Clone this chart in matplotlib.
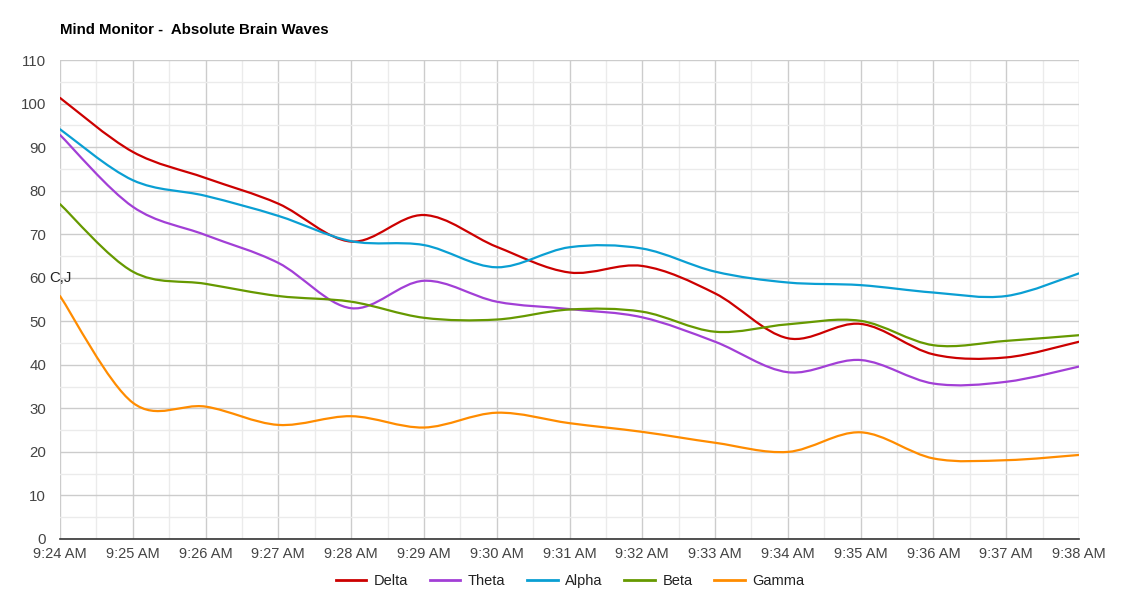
import matplotlib
matplotlib.use("Agg")
import matplotlib.pyplot as plt
from matplotlib.path import Path
from matplotlib.patches import PathPatch
from matplotlib.lines import Line2D
import numpy as np

plt.rcParams['font.family'] = ['Liberation Sans', 'DejaVu Sans']

times = ["9:24 AM", "9:25 AM", "9:26 AM", "9:27 AM", "9:28 AM", "9:29 AM", "9:30 AM",
         "9:31 AM", "9:32 AM", "9:33 AM", "9:34 AM", "9:35 AM", "9:36 AM", "9:37 AM", "9:38 AM"]
delta = [101.3, 88.9, 82.9, 77.0, 68.3, 74.4, 67.1, 61.2, 62.7, 56.4, 46.1, 49.4, 42.4, 41.7, 45.3]
theta = [92.8, 76.3, 69.8, 63.4, 53.0, 59.3, 54.5, 52.8, 50.9, 45.3, 38.3, 41.1, 35.7, 36.1, 39.6]
alpha = [94.1, 82.4, 78.8, 74.2, 68.4, 67.5, 62.4, 67.0, 66.7, 61.4, 58.9, 58.3, 56.6, 55.8, 61.0]
beta = [76.9, 61.4, 58.6, 55.8, 54.5, 50.8, 50.4, 52.7, 52.2, 47.6, 49.3, 50.1, 44.5, 45.5, 46.8]
gamma = [55.8, 31.3, 30.4, 26.2, 28.2, 25.6, 29.0, 26.6, 24.6, 22.1, 20.0, 24.5, 18.5, 18.1, 19.3]

series = [("Delta", delta, "#cc0000"), ("Theta", theta, "#a23fd6"),
          ("Alpha", alpha, "#0a9fd3"), ("Beta", beta, "#669900"),
          ("Gamma", gamma, "#ff8c00")]

W, H = 1140, 600
fig = plt.figure(figsize=(W / 100, H / 100), dpi=100)
L, R, T, B = 60, 1079, 60, 539
ax = fig.add_axes([L / W, 1 - B / H, (R - L) / W, (B - T) / H])

x = np.arange(len(times))


def smooth_path(xs, ys):
    pts = np.column_stack([xs, ys]).astype(float)
    n = len(pts)
    verts = [pts[0]]
    codes = [Path.MOVETO]
    for i in range(n - 1):
        p0 = pts[i - 1] if i > 0 else pts[i]
        p1 = pts[i]
        p2 = pts[i + 1]
        p3 = pts[i + 2] if i + 2 < n else pts[i + 1]
        c1 = p1 + (p2 - p0) / 6.0
        c2 = p2 - (p3 - p1) / 6.0
        verts += [c1, c2, p2]
        codes += [Path.CURVE4] * 3
    return Path(verts, codes)


handles = []
for name, vals, col in series:
    patch = PathPatch(smooth_path(x, vals), facecolor='none', edgecolor=col,
                      lw=1.6, zorder=3, capstyle='round', joinstyle='round')
    ax.add_patch(patch)
    handles.append(Line2D([], [], color=col, lw=2))

ax.set_xlim(0, len(times) - 1)
ax.set_ylim(0, 110)
ax.set_xticks(x)
ax.set_xticklabels(times)
ax.set_xticks(np.arange(0.5, len(times) - 1, 1.0), minor=True)
ax.set_yticks(np.arange(0, 111, 10))
ax.set_yticks(np.arange(5, 110, 10), minor=True)

ax.grid(which='major', color='#cccccc', lw=1, zorder=0)
ax.grid(which='minor', color='#ebebeb', lw=1, zorder=0)
ax.set_axisbelow(True)
for s in ['top', 'right', 'left']:
    ax.spines[s].set_visible(False)
ax.spines['bottom'].set_color('#333333')
ax.spines['bottom'].set_linewidth(1.2)
ax.spines['bottom'].set_zorder(4)

ax.tick_params(which='both', length=0)
ax.tick_params(axis='y', pad=10, labelsize=10.8, labelcolor='#444444')
ax.tick_params(axis='x', pad=6, labelsize=10.5, labelcolor='#444444')

ax.text(0, 60, "C,J", ha='center', va='center', fontsize=10.8, color='#222222', zorder=5)

fig.text(L / W, 1 - 30 / H, "Mind Monitor -  Absolute Brain Waves", fontsize=10.8,
         fontweight='bold', color='#000000', ha='left', va='center')

fig.legend(handles, [s[0] for s in series], loc='center', ncol=5,
           bbox_to_anchor=(570 / W, 1 - 581 / H), frameon=False, fontsize=10.5,
           handlelength=2.1, handletextpad=0.5, columnspacing=1.5,
           labelcolor='#222222')

fig.savefig("out.png", dpi=100)
